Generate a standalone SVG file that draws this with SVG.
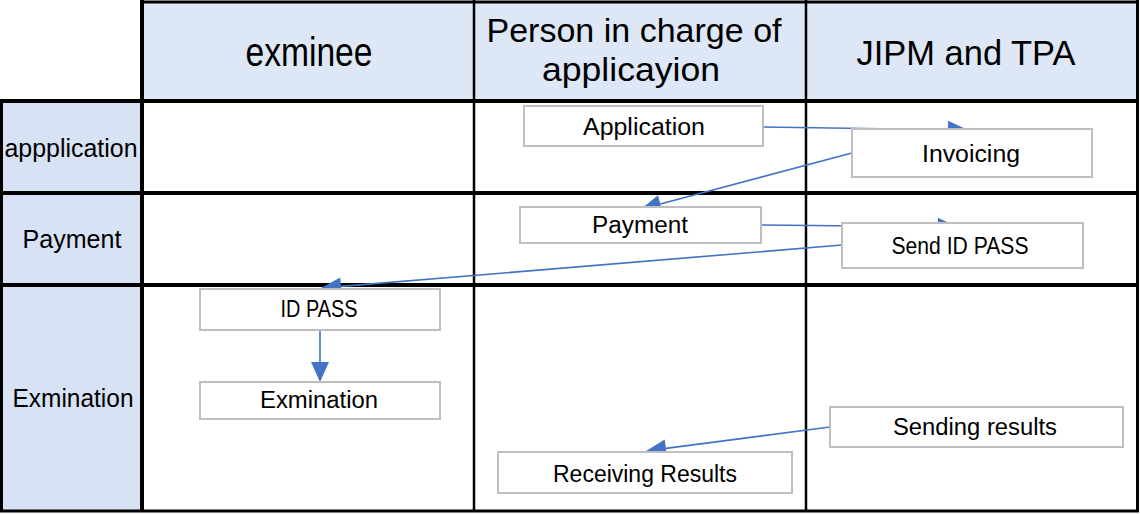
<svg xmlns="http://www.w3.org/2000/svg" width="1140" height="514" viewBox="0 0 1140 514">
<style>
.hdr{fill:#DEE7F5}
.lane{fill:#D7E2F4}
.grid{stroke:#000;fill:none}
.t{font-family:"Liberation Sans",Arial,sans-serif;fill:#000;text-anchor:middle}
.box{fill:#fff;stroke:#BFBFBF;stroke-width:2}
.con{stroke:#4472C4;stroke-width:1.6;fill:none}
.head{fill:#4472C4;stroke:none}
</style>
<rect width="1140" height="514" fill="#fff"/>
<g id="grid">
<rect class="hdr" x="141" y="2" width="997" height="99"/>
<rect class="lane" x="0" y="101" width="142" height="411"/>
<line class="grid" x1="140" y1="2" x2="1139" y2="2" stroke-width="3"/>
<line class="grid" x1="0" y1="101" x2="1139" y2="101" stroke-width="4"/>
<line class="grid" x1="0" y1="193" x2="1139" y2="193" stroke-width="4"/>
<line class="grid" x1="0" y1="285" x2="1139" y2="285" stroke-width="4"/>
<line class="grid" x1="0" y1="511" x2="1139" y2="511" stroke-width="3"/>
<line class="grid" x1="1.5" y1="99" x2="1.5" y2="512" stroke-width="3"/>
<line class="grid" x1="142" y1="0" x2="142" y2="512" stroke-width="4"/>
<line class="grid" x1="474" y1="0" x2="474" y2="512" stroke-width="2.5"/>
<line class="grid" x1="806" y1="0" x2="806" y2="512" stroke-width="2.5"/>
<line class="grid" x1="1137.5" y1="0" x2="1137.5" y2="512" stroke-width="3"/>
</g>
<g id="headers">
<text class="t" x="309" y="66" font-size="40" textLength="127" lengthAdjust="spacingAndGlyphs">exminee</text>
<text class="t" x="634" y="42" font-size="33" textLength="295" lengthAdjust="spacingAndGlyphs">Person in charge of</text>
<text class="t" x="631" y="81" font-size="33" textLength="178" lengthAdjust="spacingAndGlyphs">applicayion</text>
<text class="t" x="966" y="65" font-size="35" textLength="219" lengthAdjust="spacingAndGlyphs">JIPM and TPA</text>
<text class="t" x="71" y="157" font-size="25" textLength="133" lengthAdjust="spacingAndGlyphs">appplication</text>
<text class="t" x="72" y="248" font-size="25" textLength="99" lengthAdjust="spacingAndGlyphs">Payment</text>
<text class="t" x="73" y="407" font-size="25" textLength="121" lengthAdjust="spacingAndGlyphs">Exmination</text>
</g>
<g id="connectors">
<line class="con" x1="763" y1="127" x2="948" y2="129.7"/>
<polygon class="head" points="968,130 948.1,120.7 947.9,138.7"/>
<line class="con" x1="852" y1="153" x2="660.3" y2="203.9"/>
<polygon class="head" points="641,209 658,195.2 662.6,212.6"/>
<line class="con" x1="761" y1="225" x2="938" y2="226.8"/>
<polygon class="head" points="958,227 937.9,217.8 938.1,235.8"/>
<line class="con" x1="842" y1="245" x2="340.9" y2="286.4"/>
<polygon class="head" points="321,288 340.2,277.4 341.7,295.4"/>
<line class="con" x1="320" y1="330" x2="320" y2="362"/>
<polygon class="head" points="320,382 311,362 329,362"/>
<line class="con" x1="830" y1="427" x2="665.8" y2="448.4"/>
<polygon class="head" points="646,451 664.7,439.5 667,457.3"/>
</g>
<g id="node-application">
<rect class="box" x="524" y="106" width="239" height="40"/>
<text class="t" x="644" y="135" font-size="23" textLength="122" lengthAdjust="spacingAndGlyphs">Application</text>
</g>
<g id="node-invoicing">
<rect class="box" x="852" y="129" width="240" height="48"/>
<text class="t" x="971" y="162" font-size="23" textLength="98" lengthAdjust="spacingAndGlyphs">Invoicing</text>
</g>
<g id="node-payment">
<rect class="box" x="520" y="207" width="241" height="36"/>
<text class="t" x="640" y="233" font-size="23" textLength="96" lengthAdjust="spacingAndGlyphs">Payment</text>
</g>
<g id="node-send-id-pass">
<rect class="box" x="842" y="223" width="241" height="45"/>
<text class="t" x="960" y="254" font-size="23" textLength="137" lengthAdjust="spacingAndGlyphs">Send ID PASS</text>
</g>
<g id="node-id-pass">
<rect class="box" x="200" y="289" width="240" height="41"/>
<text class="t" x="319" y="317" font-size="23" textLength="77" lengthAdjust="spacingAndGlyphs">ID PASS</text>
</g>
<g id="node-exmination">
<rect class="box" x="200" y="382" width="240" height="37"/>
<text class="t" x="319" y="408" font-size="23" textLength="118" lengthAdjust="spacingAndGlyphs">Exmination</text>
</g>
<g id="node-sending-results">
<rect class="box" x="830" y="407" width="293" height="40"/>
<text class="t" x="975" y="435" font-size="23" textLength="164" lengthAdjust="spacingAndGlyphs">Sending results</text>
</g>
<g id="node-receiving-results">
<rect class="box" x="498" y="452" width="294" height="41"/>
<text class="t" x="645" y="482" font-size="23" textLength="184" lengthAdjust="spacingAndGlyphs">Receiving Results</text>
</g>
</svg>
